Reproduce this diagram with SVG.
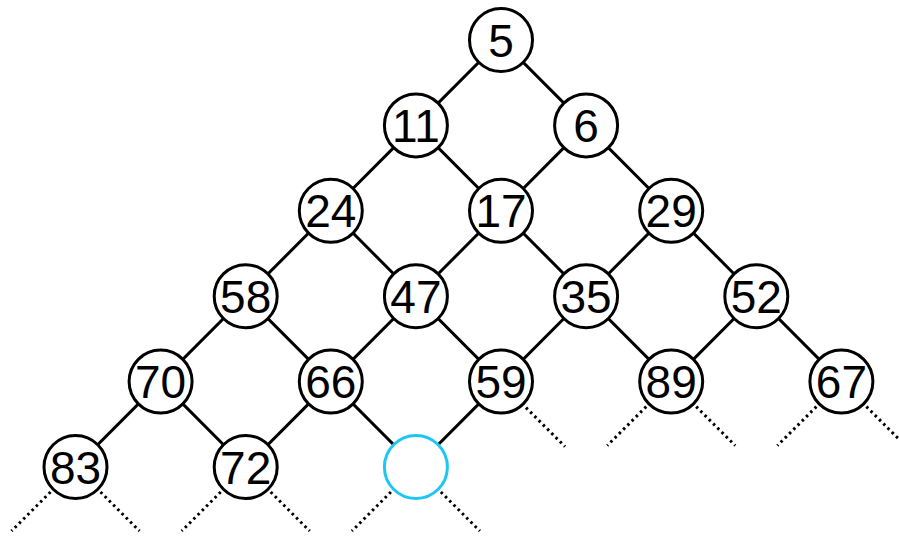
<svg xmlns="http://www.w3.org/2000/svg" width="899" height="537" viewBox="0 0 899 537">
<style>
.e{stroke:#000;stroke-width:3;fill:none}
.d{stroke:#000;stroke-width:3;fill:none;stroke-dasharray:2.5 3.5}
.n circle{fill:#fff;stroke:#000;stroke-width:3}
.n text{font-family:"Liberation Sans",Arial,sans-serif;font-size:46px;text-anchor:middle;fill:#000}
#nE circle{stroke:#1ec6f2}
</style>
<rect width="899" height="537" fill="#fff"/>
<g id="connectors">
<path class="e" d="M501 40L415.9 125.4M501 40L586.1 125.4M415.9 125.4L330.8 210.8M415.9 125.4L501 210.8M586.1 125.4L501 210.8M586.1 125.4L671.2 210.8M330.8 210.8L245.7 296.2M330.8 210.8L415.9 296.2M501 210.8L415.9 296.2M501 210.8L586.1 296.2M671.2 210.8L586.1 296.2M671.2 210.8L756.3 296.2M245.7 296.2L160.6 381.6M245.7 296.2L330.8 381.6M415.9 296.2L330.8 381.6M415.9 296.2L501 381.6M586.1 296.2L501 381.6M586.1 296.2L671.2 381.6M756.3 296.2L671.2 381.6M756.3 296.2L841.4 381.6M160.6 381.6L75.5 467M160.6 381.6L245.7 467M330.8 381.6L245.7 467M330.8 381.6L415.9 467M501 381.6L415.9 467"/>
<path class="d" d="M526 407.6L565 446.6M646.2 406.6L607.2 445.6M696.2 406.6L735.2 445.6M816.4 406.6L777.4 445.6M866.4 406.6L905.4 445.6M50.5 492L11.5 531M100.5 492L139.5 531M220.7 492L181.7 531M270.7 492L309.7 531M390.9 492L351.9 531M440.9 492L479.9 531"/>
</g>
<g id="n5" class="n"><circle cx="501" cy="40" r="31.5"/><text x="501" y="56.5">5</text></g>
<g id="n11" class="n"><circle cx="415.9" cy="125.4" r="31.5"/><text x="415.9" y="141.9">11</text></g>
<g id="n6" class="n"><circle cx="586.1" cy="125.4" r="31.5"/><text x="586.1" y="141.9">6</text></g>
<g id="n24" class="n"><circle cx="330.8" cy="210.8" r="31.5"/><text x="330.8" y="227.3">24</text></g>
<g id="n17" class="n"><circle cx="501" cy="210.8" r="31.5"/><text x="501" y="227.3">17</text></g>
<g id="n29" class="n"><circle cx="671.2" cy="210.8" r="31.5"/><text x="671.2" y="227.3">29</text></g>
<g id="n58" class="n"><circle cx="245.7" cy="296.2" r="31.5"/><text x="245.7" y="312.7">58</text></g>
<g id="n47" class="n"><circle cx="415.9" cy="296.2" r="31.5"/><text x="415.9" y="312.7">47</text></g>
<g id="n35" class="n"><circle cx="586.1" cy="296.2" r="31.5"/><text x="586.1" y="312.7">35</text></g>
<g id="n52" class="n"><circle cx="756.3" cy="296.2" r="31.5"/><text x="756.3" y="312.7">52</text></g>
<g id="n70" class="n"><circle cx="160.6" cy="381.6" r="31.5"/><text x="160.6" y="398.1">70</text></g>
<g id="n66" class="n"><circle cx="330.8" cy="381.6" r="31.5"/><text x="330.8" y="398.1">66</text></g>
<g id="n59" class="n"><circle cx="501" cy="381.6" r="31.5"/><text x="501" y="398.1">59</text></g>
<g id="n89" class="n"><circle cx="671.2" cy="381.6" r="31.5"/><text x="671.2" y="398.1">89</text></g>
<g id="n67" class="n"><circle cx="841.4" cy="381.6" r="31.5"/><text x="841.4" y="398.1">67</text></g>
<g id="n83" class="n"><circle cx="75.5" cy="467" r="31.5"/><text x="75.5" y="483.5">83</text></g>
<g id="n72" class="n"><circle cx="245.7" cy="467" r="31.5"/><text x="245.7" y="483.5">72</text></g>
<g id="nE" class="n"><circle cx="415.9" cy="467" r="31.5"/></g>
</svg>
